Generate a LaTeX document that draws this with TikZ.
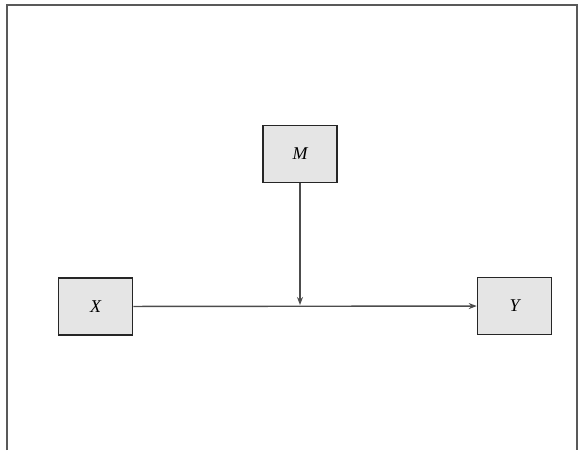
\documentclass[tikz,border=0pt]{standalone}
\usepackage{fontspec}
\setmainfont{Liberation Serif}
\usetikzlibrary{arrows.meta}

\begin{document}
\begin{tikzpicture}[x=1pt,y=-1pt]
    \useasboundingbox (0,0) rectangle (578,450);
    % open frame round the diagram
    \draw [line width=1.8pt, draw=black!65] (7,450) -- (7,5) -- (577,5) -- (577,450);

    \begin{scope}[every node/.style={rectangle,draw=black!85,line width=1.5pt,
                  fill=black!10,minimum width=74pt,minimum height=57pt,
                  font=\fontsize{18}{21}\selectfont\itshape}]
        \node (M) at (300,154) {M};
        \node (X) at (95.5,306.5) {X};
        \node (Y) at (514.5,306) {Y};
    \end{scope}

    \coordinate (J) at (300,305);

    \begin{scope}[>={Stealth[length=8pt,width=6pt]},
                  every edge/.style={draw=black!70,line width=1.4pt}]
        \path [->] (X) edge (Y);
        \path [->] (M) edge (J);
    \end{scope}
\end{tikzpicture}
\end{document}
